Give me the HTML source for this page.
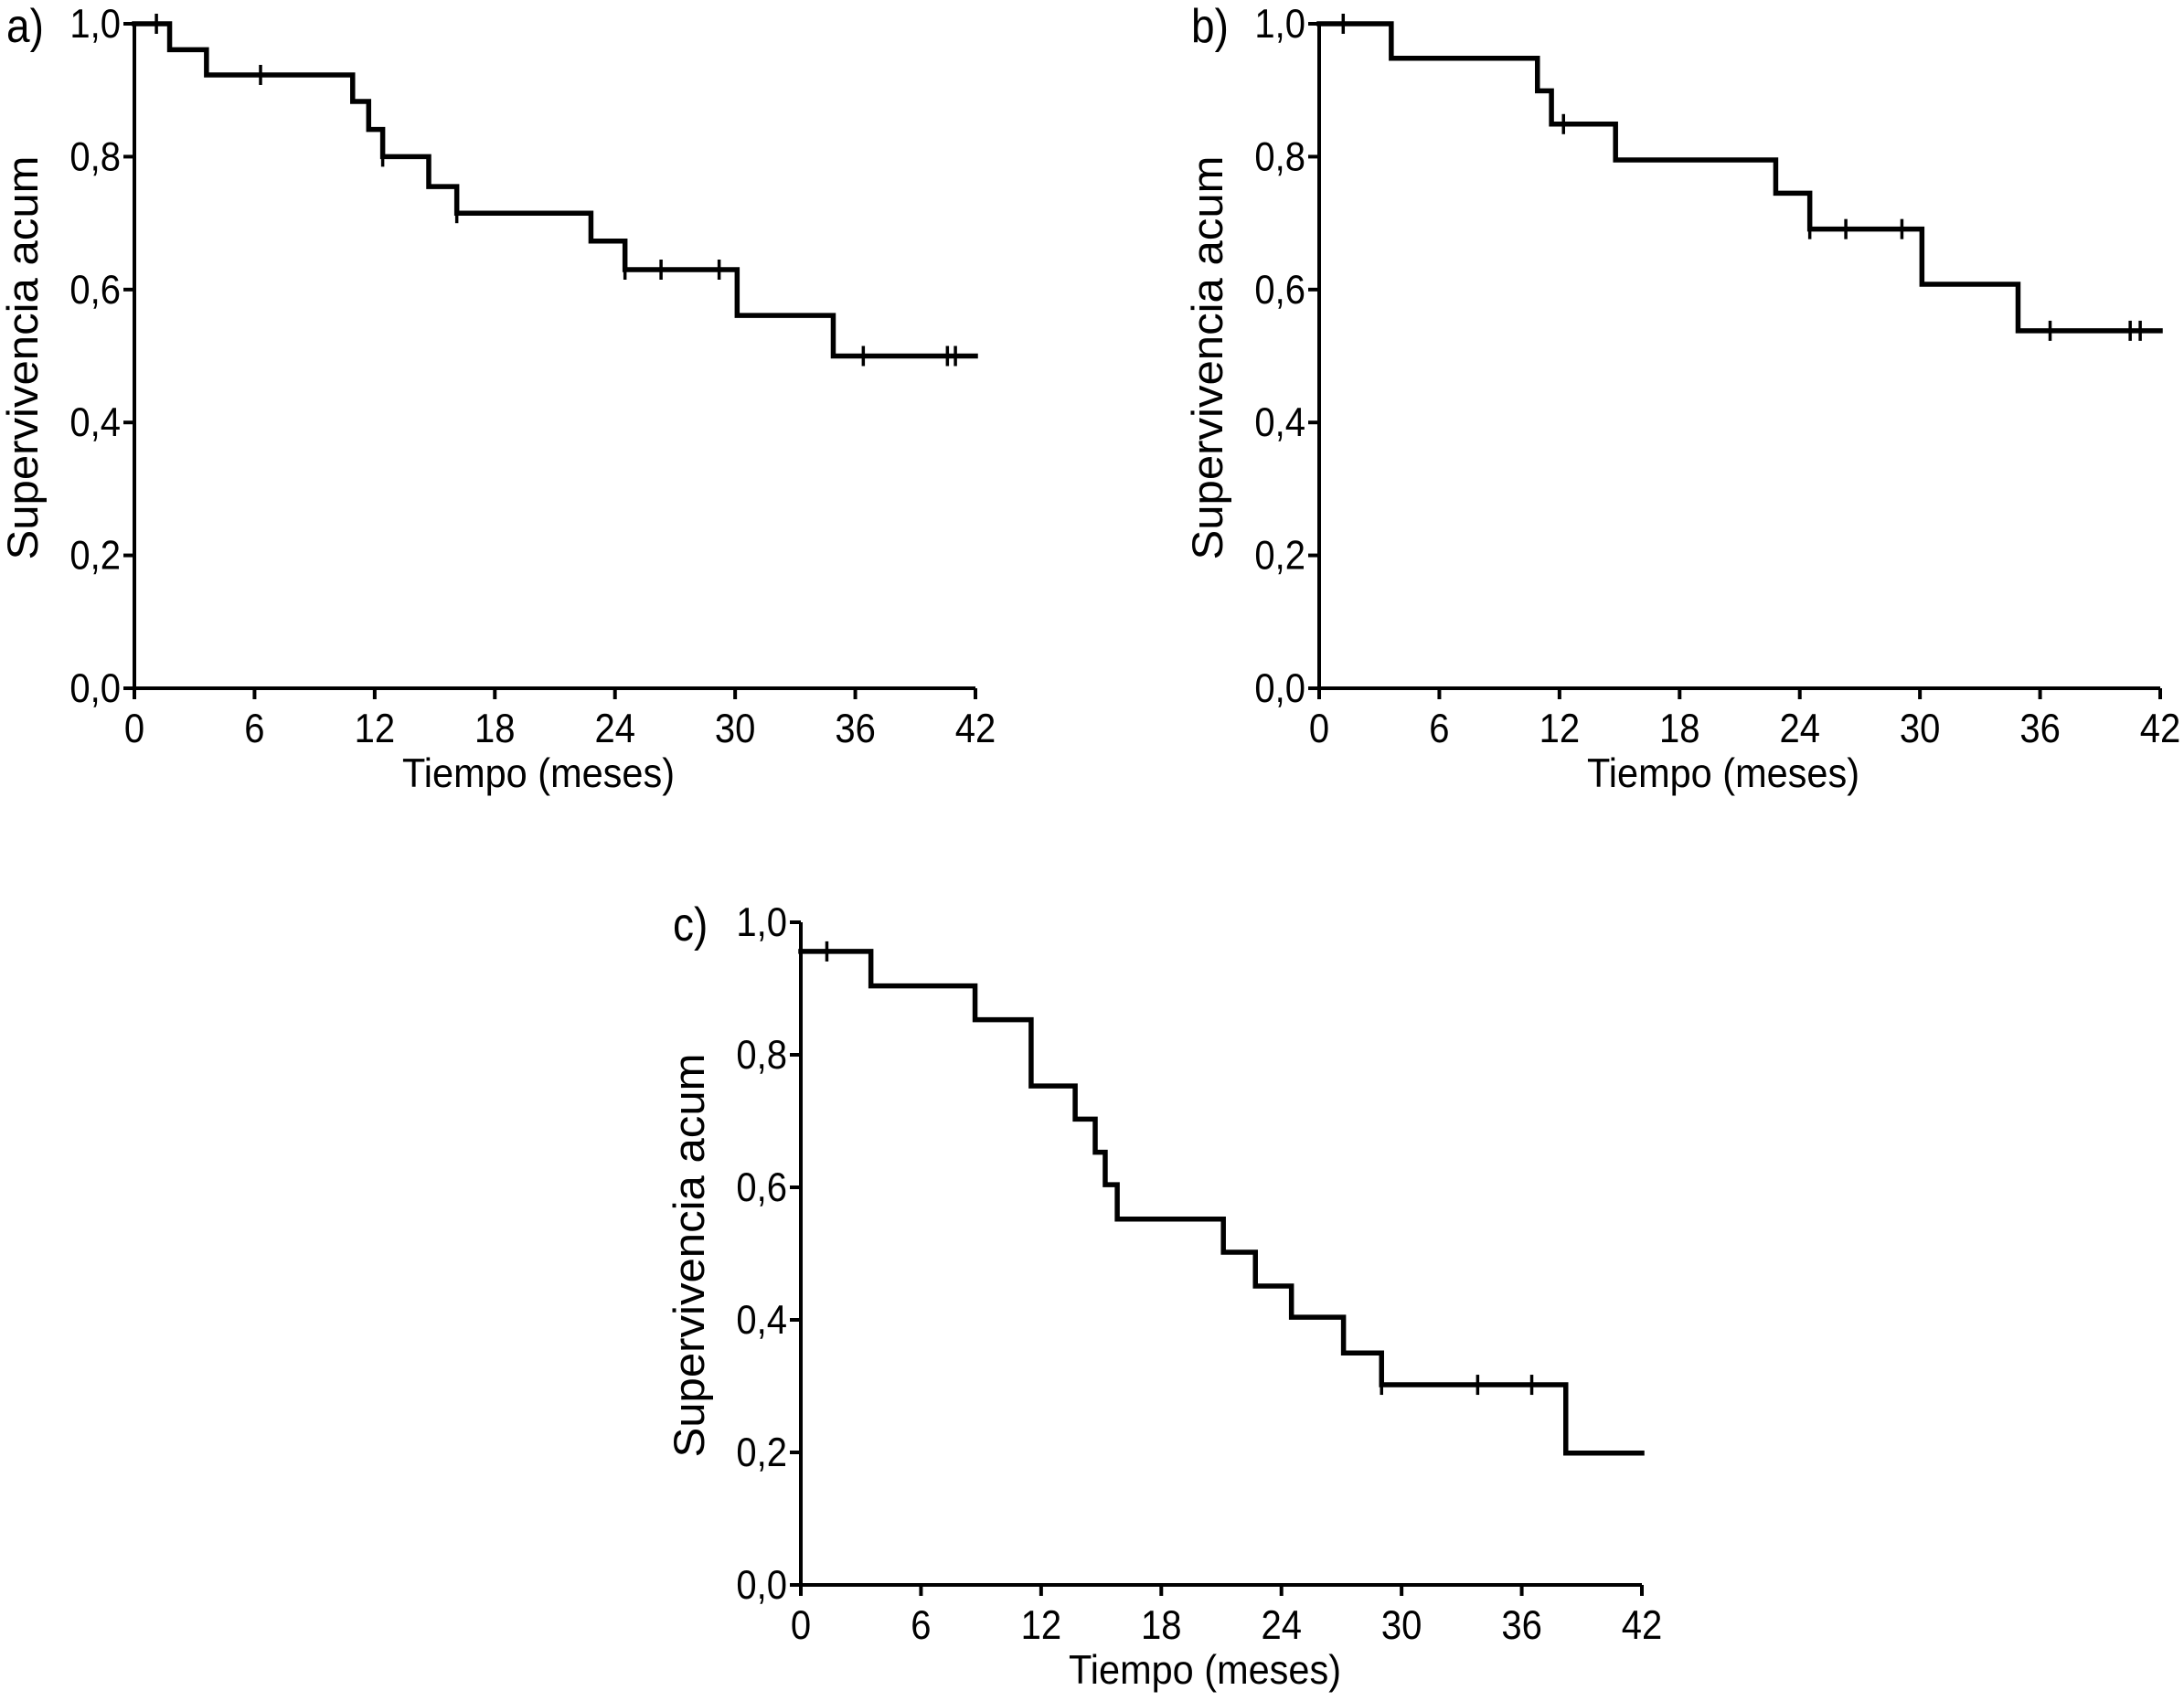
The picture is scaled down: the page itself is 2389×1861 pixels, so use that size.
<!DOCTYPE html>
<html><head><meta charset="utf-8">
<style>
html,body{margin:0;padding:0;background:#fff;}
svg{display:block;}
text{font-family:"Liberation Sans",sans-serif;fill:#000;}
</style></head>
<body>
<svg id="fig" width="2389" height="1861" viewBox="0 0 2389 1861" xmlns="http://www.w3.org/2000/svg"></svg>
<script>
// Shared axis ticks
const xTicks = [0, 6, 12, 18, 24, 30, 36, 42];
const yTicks = [0, 0.2, 0.4, 0.6, 0.8, 1.0];
const yTickLabels = ["0,0", "0,2", "0,4", "0,6", "0,8", "1,0"];

// Panel a
const aTimes = [0, 1.76, 3.6, 10.9, 11.7, 12.4, 14.7, 16.1, 22.8, 24.5, 30.1, 34.9];
const aSurv = [1.0, 0.961, 0.923, 0.883, 0.841, 0.80, 0.755, 0.715, 0.673, 0.630, 0.561, 0.50];
const aCensor = [1.1, 6.3, 12.4, 16.1, 24.5, 26.3, 29.2, 36.4, 40.6, 41.0];

// Panel b
const bTimes = [0, 3.6, 10.9, 11.6, 14.8, 22.8, 24.5, 30.1, 34.9];
const bSurv = [1.0, 0.948, 0.899, 0.849, 0.795, 0.745, 0.691, 0.608, 0.538];
const bCensor = [1.2, 12.2, 24.5, 26.3, 29.1, 36.5, 40.5, 41.0];

// Panel c
const cTimes = [0, 3.5, 8.7, 11.5, 13.7, 14.7, 15.2, 15.8, 21.1, 22.7, 24.5, 27.1, 29.0, 38.2];
const cSurv = [0.956, 0.904, 0.853, 0.753, 0.703, 0.653, 0.604, 0.552, 0.502, 0.451, 0.404, 0.35, 0.302, 0.199];
const cCensor = [1.3, 29.0, 33.8, 36.5];

const NS = "http://www.w3.org/2000/svg";
const svg = document.getElementById("fig");
function mk(tag, attrs, parent) {
  const e = document.createElementNS(NS, tag);
  for (const k in attrs) e.setAttribute(k, attrs[k]);
  (parent || svg).appendChild(e);
  return e;
}

function panel(id, letter, box, times, surv, censor) {
  const g = mk("g", {});
  
  
  const xS = t => box.x0 + (t / 42) * (box.x1 - box.x0);
  const yS = v => box.y0 - v * (box.y0 - box.y1);

  const ya = mk("line", {x1: box.x0, y1: box.y0 + 2, x2: box.x0, y2: box.y1, stroke: "#000", "stroke-width": 4}, g);
  
  
  const xa = mk("line", {x1: box.x0 - 2, y1: box.y0, x2: box.x1, y2: box.y0, stroke: "#000", "stroke-width": 4}, g);
  
  

  yTicks.forEach((v, i) => {
    const y = yS(v);
    const tk = mk("line", {x1: box.x0 - 12, y1: y, x2: box.x0, y2: y, stroke: "#000", "stroke-width": 4}, g);
    
    
    const t = mk("text", {x: 0, y: 0, "font-size": 40, "text-anchor": "end", transform: `translate(${box.x0 - 15},${y + 15}) scale(1,1.12)`}, g);
    t.textContent = yTickLabels[i];
    
    
  });
  xTicks.forEach(v => {
    const x = xS(v);
    const tk = mk("line", {x1: x, y1: box.y0, x2: x, y2: box.y0 + 12, stroke: "#000", "stroke-width": 4}, g);
    
    
    const t = mk("text", {x: 0, y: 0, "font-size": 40, "text-anchor": "middle", transform: `translate(${x},${box.y0 + 59}) scale(1,1.12)`}, g);
    t.textContent = String(v);
    
    
  });

  const xt = mk("text", {x: 0, y: 0, "font-size": 40, "text-anchor": "middle", textLength: 298, lengthAdjust: "spacingAndGlyphs", transform: `translate(${(box.x0 + box.x1) / 2 - 18},${box.y0 + 108}) scale(1,1.12)`}, g);
  xt.textContent = "Tiempo (meses)";
  
  
  const cy = (box.y0 + box.y1) / 2 + 2;
  const yt = mk("text", {x: 0, y: 0, "font-size": 42, "text-anchor": "middle", textLength: 442, lengthAdjust: "spacingAndGlyphs", transform: `translate(${box.x0 - 106},${cy}) rotate(-90) scale(1,1.12)`}, g);
  yt.textContent = "Supervivencia acum";
  
  
  const pl = mk("text", {x: 0, y: 0, "font-size": 46, "text-anchor": "start", transform: `translate(${box.x0 - 140},${box.y1 + 20}) scale(1,1.12)`}, g);
  pl.textContent = letter + ")";
  
  

  let d = `M${xS(times[0])},${yS(surv[0])}`;
  for (let i = 1; i < times.length; i++) {
    d += ` H${xS(times[i])} V${yS(surv[i])}`;
  }
  d += ` H${xS(42)}`;
  const p = mk("path", {d: d, fill: "none", stroke: "#000", "stroke-width": 5.5, "stroke-linejoin": "miter", "stroke-linecap": "square"}, g);
  
  

  censor.forEach(t => {
    let v = surv[0];
    for (let i = 0; i < times.length; i++) if (times[i] <= t) v = surv[i];
    const x = xS(t), y = yS(v);
    const c = mk("line", {x1: x, y1: y - 11, x2: x, y2: y + 11, stroke: "#000", "stroke-width": 3.5}, g);
    
    
  });
}

panel("a", "a", {x0: 147, x1: 1067, y0: 753, y1: 26}, aTimes, aSurv, aCensor);
panel("b", "b", {x0: 1443, x1: 2363, y0: 753, y1: 26}, bTimes, bSurv, bCensor);
panel("c", "c", {x0: 876, x1: 1796, y0: 1734, y1: 1009}, cTimes, cSurv, cCensor);
</script>
</body></html>
